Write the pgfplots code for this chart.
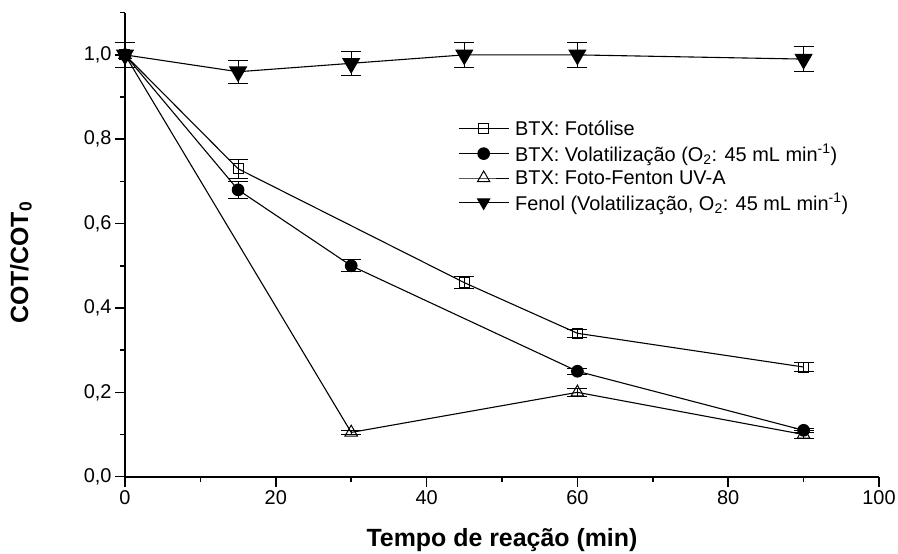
\documentclass[border=0pt]{standalone}
\usepackage{fontspec}
\setmainfont{Liberation Sans}
\usepackage{pgfplots}
\pgfplotsset{compat=1.18}

\begin{document}
\begin{tikzpicture}
\useasboundingbox (-125bp,-77bp) rectangle (773bp,476.7bp);
\begin{axis}[
  at={(0,0)}, anchor=south west,
  scale only axis, width=754bp, height=464bp,
  xmin=0, xmax=100, ymin=0, ymax=1.1,
  clip=false,
  axis x line*=bottom, axis y line*=left,
  axis line style={-, line width=2bp},
  tick align=outside,
  major tick length=10bp, minor tick length=5bp,
  every tick/.style={black, line width=1.5bp},
  xtick={0,20,...,100}, minor xtick={10,30,50,70,90},
  ytick={0,0.2,...,1.0}, minor ytick={0.1,0.3,...,1.1},
  /pgf/number format/assume math mode=true,
  yticklabel style={/pgf/number format/.cd, fixed, fixed zerofill, precision=1, use comma},
  xticklabel style={/pgf/number format/.cd, fixed, precision=0},
  tick label style={font=\fontsize{20}{24}\selectfont},
  xlabel={Tempo de reação (min)},
  ylabel={COT/COT\textsubscript{0}},
  label style={font=\fontsize{25}{30}\selectfont\bfseries},
  xlabel style={at={(axis description cs:0.5,-0.1358)}, anchor=center},
  ylabel style={at={(axis description cs:-0.138,0.461)}, anchor=center},
  legend style={draw=none, fill=none, at={(axis description cs:0.4416,0.772)},
    anchor=north west, inner sep=0pt, row sep=3.5bp,
    font=\fontsize{20}{24}\selectfont},
  legend cell align=left,
  legend image code/.code={\draw[mark repeat=2,mark phase=2,#1]
    plot coordinates {(0bp,0bp) (25bp,0bp) (50bp,0bp)};
    \path (54bp,0bp);},
  error bars/y dir=both, error bars/y explicit,
  error bars/error mark options={rotate=90, mark size=10bp, line width=0.8bp},
  error bars/error bar style={line width=0.8bp},
]

% BTX: fotolise
\addplot[black, line width=1.1bp, mark=square, mark size=5bp,
  mark options={fill=white, line width=1bp}, forget plot]
  coordinates {(0,1.00) +- (0,0.03) (15,0.73) +- (0,0.022) (45,0.46) +- (0,0.014)
               (60,0.34) +- (0,0.01) (90,0.26) +- (0,0.01)};

% BTX: volatilizacao
\addplot[black, line width=1.1bp, mark=*, mark size=5.8bp, forget plot]
  coordinates {(0,1.00) +- (0,0.03) (15,0.68) +- (0,0.02) (30,0.50) +- (0,0.014)
               (60,0.25) +- (0,0.007) (90,0.11) +- (0,0.005)};

% BTX: foto-Fenton UV-A
\addplot[black, line width=1.1bp, mark=triangle, mark size=7.2bp,
  mark options={fill=white, line width=1bp}, forget plot]
  coordinates {(0,1.00) +- (0,0.03) (30,0.105) +- (0,0.005) (60,0.20) +- (0,0.01)
               (90,0.10) +- (0,0.01)};

% Fenol: volatilizacao
\addplot[black, line width=1.1bp, mark=triangle*, mark size=9.5bp,
  mark options={rotate=180}, forget plot]
  coordinates {(0,1.00) +- (0,0.03) (15,0.96) +- (0,0.027) (30,0.98) +- (0,0.028)
               (45,1.00) +- (0,0.03) (60,1.00) +- (0,0.03) (90,0.99) +- (0,0.03)};

\addlegendimage{black, line width=1bp, mark=square, mark size=5bp, mark options={fill=white}}
\addlegendentry{BTX: Fotólise}
\addlegendimage{black, line width=1bp, mark=*, mark size=5.8bp}
\addlegendentry{BTX: Volatilização (O\textsubscript{2}: 45 mL min\textsuperscript{-1})}
\addlegendimage{black, line width=1bp, mark=triangle, mark size=7bp, mark options={fill=white}}
\addlegendentry{BTX: Foto-Fenton UV-A}
\addlegendimage{black, line width=1bp, mark=triangle*, mark size=7bp, mark options={rotate=180}}
\addlegendentry{Fenol (Volatilização, O\textsubscript{2}: 45 mL min\textsuperscript{-1})}
\end{axis}
\end{tikzpicture}
\end{document}
